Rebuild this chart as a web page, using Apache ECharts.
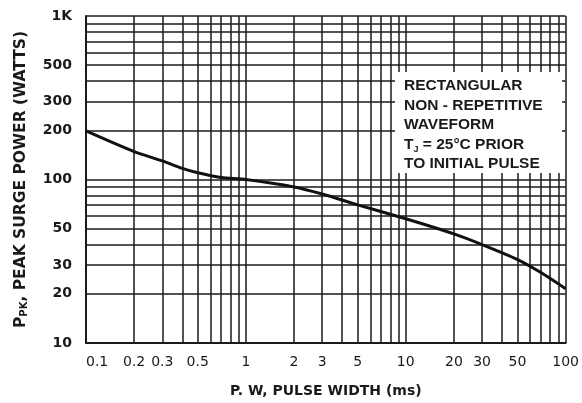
<!DOCTYPE html>
<html><head><meta charset="utf-8">
<script src="https://cdn.jsdelivr.net/npm/echarts@6/dist/echarts.min.js"></script>
<style>html,body{margin:0;padding:0;background:#fff}#c{width:582px;height:403px}</style>
</head><body><div id="c"></div>
<script>
const pulseWidth = [0.1, 0.2, 0.3, 0.4, 0.5, 0.7, 1, 2, 3, 5, 10, 20, 30, 50, 70, 100];
const peakPower = [198, 148, 130, 117, 110, 103, 100, 90, 81.5, 70, 57.5, 46.5, 40, 32.4, 27, 21.5];
const xGridValues = [0.1, 0.2, 0.3, 0.4, 0.5, 0.6, 0.7, 0.8, 0.9, 1, 2, 3, 4, 5, 6, 7, 8, 9, 10, 20, 30, 40, 50, 60, 70, 80, 90, 100];
const xLabelValues = [0.1, 0.2, 0.3, 0.5, 1, 2, 3, 5, 10, 20, 30, 50, 100];
const yGridValues = [10, 20, 30, 40, 50, 60, 70, 80, 90, 100, 200, 300, 400, 500, 600, 700, 800, 900, 1000];
const yLabelValues = [10, 20, 30, 50, 100, 200, 300, 500, 1000];
const noteLines = ['RECTANGULAR', 'NON - REPETITIVE', 'WAVEFORM', 'T{s|J} = 25°C PRIOR', 'TO INITIAL PULSE'];

const chart = echarts.init(document.getElementById('c'), null, {renderer: 'canvas'});
const ink = '#1a1a1a';
const font = 'DejaVu Sans';
chart.setOption({
  animation: false,
  backgroundColor: '#fff',
  grid: {left: 86, right: 10, top: 16, bottom: 60},
  xAxis: {
    type: 'log', logBase: 10, min: 0.1, max: 100,
    name: 'P. W, PULSE WIDTH (ms)', nameLocation: 'middle', nameGap: 41,
    nameTextStyle: {color: ink, fontFamily: font, fontSize: 14, fontWeight: 'bold'},
    axisLine: {show: true, lineStyle: {color: ink, width: 2}},
    axisTick: {show: false, customValues: xGridValues},
    axisLabel: {customValues: xLabelValues, color: ink, fontFamily: font, fontSize: 14, margin: 12,
      alignMinLabel: 'left',
      formatter: v => String(+(+v).toPrecision(3))},
    splitLine: {show: true, lineStyle: {color: ink, width: 1.5}}
  },
  yAxis: {
    type: 'log', logBase: 10, min: 10, max: 1000,
    name: 'P{s|PK}, PEAK SURGE POWER (WATTS)', nameLocation: 'middle', nameGap: 57, nameRotate: 90,
    nameTextStyle: {color: ink, fontFamily: font, fontSize: 15.5, fontWeight: 'bold',
      rich: {s: {fontSize: 10, fontFamily: font, fontWeight: 'bold', color: ink, verticalAlign: 'bottom', padding: [7, 0, 0, 0]}}},
    axisLine: {show: true, lineStyle: {color: ink, width: 2}},
    axisTick: {show: false, customValues: yGridValues},
    axisLabel: {customValues: yLabelValues, color: ink, fontFamily: font, fontSize: 14, margin: 14, fontWeight: 'bold',
      formatter: v => (+v >= 1000 ? '1K' : String(+(+v).toPrecision(3)))},
    splitLine: {show: true, lineStyle: {color: ink, width: 1.5}}
  },
  series: [{
    type: 'line',
    data: pulseWidth.map((x, i) => [x, peakPower[i]]),
    smooth: 0.25,
    showSymbol: false,
    lineStyle: {color: '#111', width: 3},
    z: 5
  }],
  graphic: [{
    type: 'rect', left: 395, top: 72, z: 10,
    shape: {width: 167, height: 101},
    style: {fill: '#fff'}
  }, {
    type: 'text', left: 404, top: 76, z: 11,
    style: {
      text: noteLines.join('\n'),
      fill: ink, font: 'bold 15.5px "Liberation Sans"', lineHeight: 19.5,
      rich: {s: {fontSize: 9, fontWeight: 'bold', fontFamily: 'Liberation Sans', fill: ink, verticalAlign: 'bottom', padding: [9, 0, 0, 0]}}
    }
  }]
});
</script></body></html>
